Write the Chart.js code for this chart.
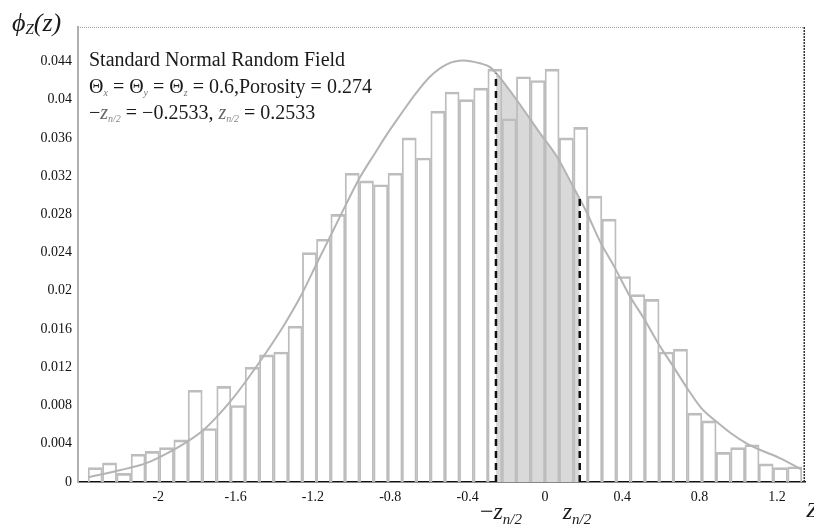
<!DOCTYPE html>
<html>
<head>
<meta charset="utf-8">
<script src="https://cdn.jsdelivr.net/npm/chart.js@4.4.0/dist/chart.umd.min.js"></script>
<style>
  html, body { margin: 0; padding: 0; background: #fff; }
  #wrap { width: 814px; height: 525px; }
</style>
</head>
<body>
<div id="wrap"><canvas id="histChart"></canvas></div>
<script>
// ---- histogram: 50 bins, relative frequency ----
const binCenters = [
  -2.326, -2.252, -2.178, -2.104, -2.031, -1.957, -1.883, -1.809, -1.735, -1.661,
  -1.588, -1.514, -1.440, -1.366, -1.292, -1.218, -1.145, -1.071, -0.997, -0.923,
  -0.849, -0.775, -0.702, -0.628, -0.554, -0.480, -0.406, -0.332, -0.259, -0.185,
  -0.111, -0.037, 0.037, 0.111, 0.185, 0.258, 0.332, 0.406, 0.480, 0.554,
  0.628, 0.701, 0.775, 0.849, 0.923, 0.997, 1.071, 1.144, 1.218, 1.292
];
const binFreq = [
  0.0015, 0.0020, 0.0009, 0.0029, 0.0032, 0.0036, 0.0044, 0.0096, 0.0056, 0.0100,
  0.0080, 0.0120, 0.0133, 0.0136, 0.0163, 0.0240, 0.0254, 0.0280, 0.0323, 0.0315,
  0.0311, 0.0323, 0.0360, 0.0339, 0.0388, 0.0408, 0.0400, 0.0412, 0.0432, 0.0380,
  0.0424, 0.0420, 0.0432, 0.0360, 0.0371, 0.0299, 0.0275, 0.0215, 0.0196, 0.0191,
  0.0136, 0.0139, 0.0072, 0.0064, 0.0031, 0.0036, 0.0039, 0.0019, 0.0015, 0.0016
];

// ---- fitted normal curve ----
const curveX = [
  -2.361, -2.206, -2.059, -1.909, -1.836, -1.763, -1.689, -1.612, -1.541, -1.457,
  -1.353, -1.267, -1.172, -1.098, -1.025, -0.953, -0.879, -0.813, -0.741, -0.681,
  -0.595, -0.508, -0.422, -0.336, -0.284, -0.198, -0.112, -0.026, 0.060, 0.146,
  0.216, 0.284, 0.362, 0.440, 0.512, 0.586, 0.660, 0.736, 0.810, 0.888,
  0.962, 1.038, 1.108, 1.215, 1.327
];
const curveY = [
  0.0005, 0.0012, 0.0020, 0.0035, 0.0044, 0.0055, 0.0070, 0.0088, 0.0107, 0.0131,
  0.0163, 0.0193, 0.0232, 0.0262, 0.0292, 0.0320, 0.0344, 0.0365, 0.0386, 0.0403,
  0.0424, 0.0437, 0.0441, 0.0438, 0.0434, 0.0414, 0.0390, 0.0365, 0.0341, 0.0309,
  0.0282, 0.0252, 0.0224, 0.0194, 0.0171, 0.0145, 0.0122, 0.0098, 0.0077, 0.0063,
  0.0051, 0.0041, 0.0034, 0.0025, 0.0013
];

// ---- shaded band under the curve between the two dashed lines ----
const shadeX = [-0.2533, -0.198, -0.112, -0.026, 0.060, 0.146, 0.18];
const shadeY = [0.0427, 0.0414, 0.0390, 0.0365, 0.0341, 0.0309, 0.0297];

const zLeft = -0.2533;
const zRight = 0.18;
const dashTops = [0.0427, 0.0297];

const xTicks = [-2, -1.6, -1.2, -0.8, -0.4, 0, 0.4, 0.8, 1.2];
const xTickLabels = ['-2', '-1.6', '-1.2', '-0.8', '-0.4', '0', '0.4', '0.8', '1.2'];
const yTicks = [0, 0.004, 0.008, 0.012, 0.016, 0.02, 0.024, 0.028, 0.032, 0.036, 0.04, 0.044];
const yTickLabels = ['0', '0.004', '0.008', '0.012', '0.016', '0.02', '0.024', '0.028', '0.032', '0.036', '0.04', '0.044'];

const SERIF = '"Liberation Serif", "DejaVu Serif", serif';

// draws a run of text pieces (for subscripts / italics), returns end x
function drawRun(ctx, x, y, parts) {
  parts.forEach(p => {
    ctx.font = p.font;
    ctx.fillStyle = p.color || '#1a1a1a';
    ctx.fillText(p.t, x, y + (p.dy || 0));
    x += ctx.measureText(p.t).width;
  });
  return x;
}

const decorations = {
  id: 'decorations',
  afterDraw(chart) {
    const ctx = chart.ctx;
    const a = chart.chartArea;
    ctx.save();

    // frame: dotted top, dark right side
    ctx.lineWidth = 1;
    ctx.strokeStyle = '#9a9a9a';
    ctx.setLineDash([1, 1]);
    ctx.beginPath();
    ctx.moveTo(a.left, a.top + 0.5);
    ctx.lineTo(a.right, a.top + 0.5);
    ctx.stroke();
    ctx.lineWidth = 1.5;
    ctx.strokeStyle = '#333';
    ctx.setLineDash([2, 1]);
    ctx.beginPath();
    ctx.moveTo(a.right - 0.75, a.top);
    ctx.lineTo(a.right - 0.75, a.bottom);
    ctx.stroke();
    ctx.setLineDash([]);

    ctx.textBaseline = 'alphabetic';
    ctx.textAlign = 'left';

    // phi_Z(z)
    drawRun(ctx, 12, 31, [
      { t: 'ϕ', font: `italic 26px ${SERIF}` },
      { t: 'Z', font: `italic 15px ${SERIF}`, dy: 3 },
      { t: '(z)', font: `italic 26px ${SERIF}` }
    ]);

    const f = `20px ${SERIF}`;
    const fi = `italic 20px ${SERIF}`;
    const fs = `italic 10px ${SERIF}`;
    drawRun(ctx, 89, 66, [{ t: 'Standard Normal Random Field', font: f }]);
    drawRun(ctx, 89, 93, [
      { t: 'Θ', font: f }, { t: 'x', font: fs, dy: 3, color: '#777' },
      { t: ' = Θ', font: f }, { t: 'y', font: fs, dy: 3, color: '#777' },
      { t: ' = Θ', font: f }, { t: 'z', font: fs, dy: 3, color: '#777' },
      { t: ' = 0.6,Porosity = 0.274', font: f }
    ]);
    drawRun(ctx, 89, 119, [
      { t: '−', font: f }, { t: 'z', font: fi, color: '#666' },
      { t: 'n/2', font: fs, dy: 3, color: '#888' },
      { t: ' = −0.2533, ', font: f },
      { t: 'z', font: fi, color: '#666' },
      { t: 'n/2', font: fs, dy: 3, color: '#888' },
      { t: ' = 0.2533', font: f }
    ]);

    // labels under the dashed lines
    const xs = chart.scales.x;
    const big = `italic 24px ${SERIF}`;
    const sub = `italic 15px ${SERIF}`;
    drawRun(ctx, xs.getPixelForValue(zLeft) - 16, 519, [
      { t: '−', font: `24px ${SERIF}` }, { t: 'z', font: big }, { t: 'n/2', font: sub, dy: 5 }
    ]);
    drawRun(ctx, xs.getPixelForValue(zRight) - 17, 519, [
      { t: 'z', font: big }, { t: 'n/2', font: sub, dy: 5 }
    ]);
    drawRun(ctx, 806, 517, [{ t: 'Z', font: `italic 22px ${SERIF}` }]);

    ctx.restore();
  }
};

const ctx = document.getElementById('histChart').getContext('2d');

new Chart(ctx, {
  type: 'bar',
  data: {
    datasets: [
      {
        type: 'line',
        data: shadeX.map((x, i) => ({ x: x, y: shadeY[i] })),
        backgroundColor: '#d9d9d9',
        borderWidth: 0,
        pointRadius: 0,
        fill: 'origin',
        cubicInterpolationMode: 'monotone',
        order: 4
      },
      {
        type: 'bar',
        data: binCenters.map((x, i) => ({ x: x, y: binFreq[i] })),
        backgroundColor: 'rgba(255,255,255,0)',
        borderColor: '#bdbdbd',
        borderWidth: { top: 2, left: 1.2, right: 1.2, bottom: 0 },
        borderSkipped: false,
        barPercentage: 1,
        categoryPercentage: 1,
        order: 3
      },
      {
        type: 'line',
        data: curveX.map((x, i) => ({ x: x, y: curveY[i] })),
        borderColor: '#b4b4b4',
        borderWidth: 2,
        pointRadius: 0,
        fill: false,
        cubicInterpolationMode: 'monotone',
        order: 2
      },
      {
        type: 'line',
        data: [{ x: zLeft, y: 0 }, { x: zLeft, y: dashTops[0] }],
        borderColor: '#111',
        borderWidth: 2.5,
        borderDash: [7, 5],
        pointRadius: 0,
        fill: false,
        order: 1
      },
      {
        type: 'line',
        data: [{ x: zRight, y: 0 }, { x: zRight, y: dashTops[1] }],
        borderColor: '#111',
        borderWidth: 2.5,
        borderDash: [7, 5],
        pointRadius: 0,
        fill: false,
        order: 1
      }
    ]
  },
  options: {
    responsive: true,
    maintainAspectRatio: false,
    animation: false,
    layout: { padding: { top: 27, right: 9, left: 0, bottom: 0 } },
    plugins: {
      legend: { display: false },
      tooltip: { enabled: false }
    },
    scales: {
      x: {
        type: 'linear',
        min: -2.415,
        max: 1.345,
        offset: false,
        grid: { display: false, drawTicks: false },
        border: { display: true, color: '#111', width: 1.5 },
        afterBuildTicks: (scale) => { scale.ticks = xTicks.map(v => ({ value: v })); },
        afterFit: (scale) => { scale.height = 43; },
        ticks: {
          padding: 7,
          maxRotation: 0,
          autoSkip: false,
          color: '#111',
          font: { family: SERIF, size: 14 },
          callback: (value, index) => xTickLabels[index]
        }
      },
      y: {
        min: 0,
        max: 0.0476,
        grid: { display: false, drawTicks: false },
        border: { display: true, color: '#b0b0b0', width: 2 },
        afterBuildTicks: (scale) => { scale.ticks = yTicks.map(v => ({ value: v })); },
        afterFit: (scale) => { scale.width = 78; },
        ticks: {
          padding: 6,
          autoSkip: false,
          color: '#111',
          font: { family: SERIF, size: 14 },
          callback: (value, index) => yTickLabels[index]
        }
      }
    }
  },
  plugins: [decorations]
});
</script>
</body>
</html>
